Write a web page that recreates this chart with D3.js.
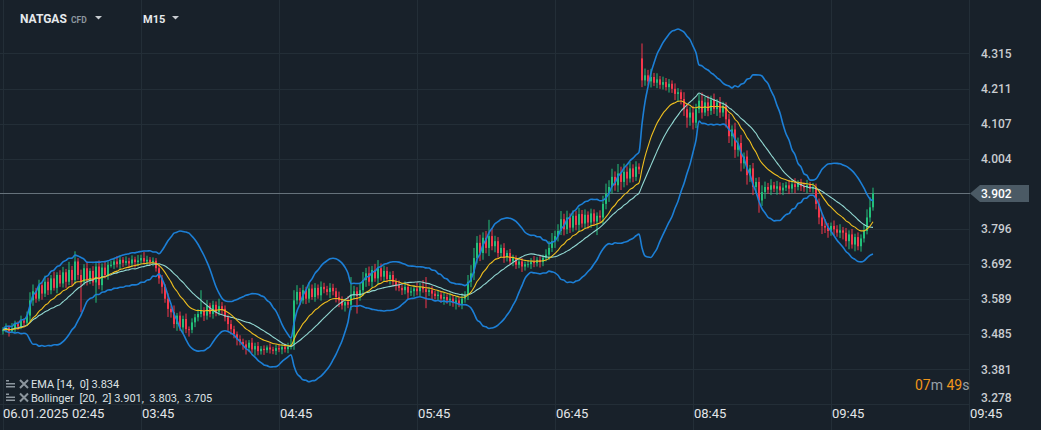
<!DOCTYPE html>
<head>
  <meta charset="utf-8">
  <title>NATGAS M15</title>
  <script src="https://d3js.org/d3.v7.min.js"></script>
  <style type="text/css">
    html, body { margin: 0; padding: 0; background: #18212a; }
    svg { display: block; font-family: Roboto, "Noto Sans", sans-serif; user-select: none; }
    .grid line { stroke: #232e37; stroke-width: 1px; }
    .ytick { fill: #c9cdd1; font-size: 12px; font-weight: 500; }
    .xtick { fill: #e3e6e9; font-size: 13px; }
    .legend { fill: #dde1e4; font-size: 11px; white-space: pre; }
  </style>
</head>
<body>
<div id="graph-container"></div>
<script>

// =================== Data ======================
// closing prices, one per candle (open = previous close unless a session gap)
const closes = [
  3.498, 3.505, 3.494, 3.502, 3.515, 3.508, 3.526, 3.519, 3.540, 3.585,
  3.612, 3.590, 3.630, 3.605, 3.640, 3.615, 3.650, 3.622, 3.660, 3.635,
  3.668, 3.640, 3.675, 3.645, 3.700, 3.660, 3.640, 3.680, 3.645, 3.672,
  3.638, 3.685, 3.630, 3.682, 3.660, 3.690, 3.690, 3.700, 3.692, 3.705,
  3.696, 3.701, 3.694, 3.706, 3.698, 3.703, 3.710, 3.700, 3.705, 3.698,
  3.702, 3.680, 3.650, 3.625, 3.590, 3.560, 3.550, 3.515, 3.540, 3.505,
  3.530, 3.500, 3.498, 3.520, 3.535, 3.545, 3.555, 3.540, 3.570, 3.545,
  3.572, 3.550, 3.568, 3.560, 3.535, 3.515, 3.500, 3.485, 3.470, 3.462,
  3.455, 3.445, 3.460, 3.440, 3.450, 3.435, 3.442, 3.438, 3.446, 3.440,
  3.436, 3.444, 3.440, 3.447, 3.441, 3.448, 3.455, 3.585, 3.610, 3.585,
  3.615, 3.590, 3.620, 3.595, 3.622, 3.600, 3.625, 3.618, 3.610, 3.622,
  3.612, 3.595, 3.585, 3.570, 3.580, 3.572, 3.600, 3.612, 3.598, 3.615,
  3.645, 3.665, 3.640, 3.675, 3.650, 3.680, 3.655, 3.672, 3.648, 3.660,
  3.640, 3.630, 3.622, 3.615, 3.625, 3.608, 3.612, 3.620, 3.612, 3.625,
  3.618, 3.610, 3.615, 3.605, 3.598, 3.602, 3.590, 3.595, 3.585, 3.590,
  3.578, 3.585, 3.575, 3.590, 3.600, 3.640, 3.665, 3.710, 3.755, 3.725,
  3.770, 3.740, 3.775, 3.745, 3.760, 3.725, 3.740, 3.712, 3.725, 3.700,
  3.710, 3.690, 3.700, 3.685, 3.692, 3.692, 3.700, 3.695, 3.705, 3.698,
  3.710, 3.720, 3.740, 3.760, 3.775, 3.790, 3.825, 3.795, 3.830, 3.800,
  3.835, 3.808, 3.840, 3.812, 3.838, 3.815, 3.842, 3.818, 3.835, 3.830,
  3.870, 3.900, 3.920, 3.950, 3.925, 3.960, 3.935, 3.965, 3.945, 3.975,
  3.950, 3.980, 3.972, 4.235, 4.250, 4.232, 4.245, 4.228, 4.238, 4.222,
  4.230, 4.215, 4.225, 4.210, 4.195, 4.200, 4.180, 4.150, 4.125, 4.140,
  4.110, 4.150, 4.175, 4.140, 4.170, 4.145, 4.178, 4.150, 4.170, 4.140,
  4.160, 4.120, 4.070, 4.090, 4.030, 4.050, 3.990, 4.010, 3.955, 3.975,
  3.920, 3.935, 3.880, 3.905, 3.920, 3.912, 3.925, 3.915, 3.922, 3.910,
  3.918, 3.925, 3.915, 3.928, 3.920, 3.930, 3.922, 3.918, 3.925, 3.915,
  3.920, 3.870, 3.830, 3.805, 3.800, 3.790, 3.805, 3.795, 3.785, 3.792,
  3.785, 3.760, 3.780, 3.750, 3.772, 3.745, 3.768, 3.790, 3.830, 3.860,
  3.902
];

// upper / lower wick length beyond the body, in units of 0.002
const wickUnit = 0.002;
const wickHi = [
  4,6,3,8,5,4,7,3,6,12, 10,5,8,4,9,6,5,10,4,7, 8,5,12,6,15,5,8,6,10,4,
  7,5,9,6,8,5,6,4,8,5, 4,7,5,6,4,8,5,9,6,4, 5,4,6,5,4,8,5,10,4,6,
  5,8,4,6,5,7,30,5,8,4, 6,5,11,6,5,4,6,5,4,6, 5,6,4,7,5,6,4,5,3,6,
  4,5,6,4,5,6,8,15,10,6, 8,5,9,6,7,5,8,6,5,7, 6,5,8,6,5,9,27,8,6,10,
  12,8,10,6,9,12,7,8,6,5, 6,5,7,4,8,5,6,5,9,6, 10,18,5,6,4,7,5,6,4,8,
  5,6,4,8,6,10,12,15,10,12, 8,10,24,12,8,6,5,7,4,6, 5,4,6,5,4,6,5,8,4,6,
  5,8,10,12,8,10,12,8,10,6, 8,7,9,6,8,5,7,6,5,8, 12,15,10,12,8,14,10,12,8,10,
  6,8,5,22,10,8,12,6,9,5, 8,6,7,5,8,6,4,10,6,8, 10,8,10,12,8,10,6,9,5,8,
  6,5,8,6,10,8,12,6,9,5, 8,6,7,10,8,6,9,5,8,6, 7,5,8,6,9,5,7,6,8,5,
  6,5,8,6,10,7,5,8,6,9, 5,7,6,8,5,7,6,10,12,15, 8
];
const wickLo = [
  5,4,8,3,6,5,4,7,5,10, 8,6,4,9,5,7,6,4,8,5, 6,9,5,8,6,7,45,5,8,6,
  5,30,6,8,5,7,4,6,5,8, 6,4,7,5,8,6,5,4,7,5, 6,5,8,10,6,12,8,6,10,5,
  8,6,10,5,7,6,5,8,6,5, 7,6,5,8,6,10,8,6,9,5, 8,10,6,5,9,6,5,7,4,6,
  5,6,4,7,5,6,4,8,6,7, 5,8,6,4,7,5,8,6,5,9, 6,8,10,6,9,5,8,6,26,7,
  8,10,6,8,5,9,6,7,5,8, 6,8,5,7,6,10,5,8,6,7, 5,24,6,8,5,7,6,9,5,8,
  6,10,5,8,6,7,8,10,8,12, 10,8,12,6,9,7,5,8,6,5, 7,6,5,8,6,5,7,6,5,8,
  6,5,8,6,10,8,6,9,7,8, 6,8,10,6,7,9,8,6,20,8, 10,8,12,10,8,10,12,8,10,6,
  8,6,7,10,8,6,9,5,8,6, 7,5,8,6,9,12,8,10,15,12, 10,8,6,9,5,8,6,7,10,8,
  6,12,10,15,12,10,12,8,14,10, 12,10,18,8,10,6,8,5,9,6, 7,5,8,6,9,5,7,6,8,5,
  6,8,10,12,8,10,7,9,6,8, 10,8,12,6,10,6,8,6,5,7, 5
];

// candles that open a new session with a gap: [index, open]
const sessionOpens = [[213, 4.300]];

// axes
const priceTicks = [4.315, 4.211, 4.107, 4.004, 3.796, 3.692, 3.589, 3.485, 3.381, 3.278];
const timeTickIdx = [0, 46, 92, 138, 184, 230, 276, 322];
const timeTickLabels = ["02:45", "03:45", "04:45", "05:45", "06:45", "08:45", "09:45", "09:45"];
const dateLabel = "06.01.2025";
const lastPrice = 3.902;

const legendLines = ["EMA [14,  0] 3.834", "Bollinger  [20,  2] 3.901,  3.803,  3.705"];

// =================== Chart Prep ======================
const width = 1041, height = 430;
const plotRight = 970;

const x = d3.scaleLinear().domain([0, 322]).range([3, 969]);
const y = d3.scaleLinear().domain([3.278, 4.315]).range([404.3, 53.3]);

// build OHLC
const gapMap = new Map(sessionOpens);
const candles = closes.map((c, i) => {
  let o = gapMap.has(i) ? gapMap.get(i) : (i === 0 ? c - 0.004 : closes[i - 1]);
  let top = Math.max(o, c), bot = Math.min(o, c);
  return { i: i, o: o, c: c, h: top + wickHi[i] * wickUnit, l: bot - wickLo[i] * wickUnit };
});

// EMA 14
const k = 2 / (14 + 1);
let emaVals = [];
closes.forEach((c, i) => {
  emaVals.push(i === 0 ? c : c * k + emaVals[i - 1] * (1 - k));
});

// Bollinger 20, 2
let boll = closes.map((c, i) => {
  let win = closes.slice(Math.max(0, i - 19), i + 1);
  let m = d3.mean(win);
  let sd = Math.sqrt(d3.mean(win, v => (v - m) * (v - m)));
  return { i: i, mid: m, up: m + 2 * sd, lo: m - 2 * sd };
});

const svg = d3.select("#graph-container").append("svg")
  .attr("width", width)
  .attr("height", height);

// grid
const grid = svg.append("g").attr("class", "grid");
grid.selectAll(".hg")
  .data(priceTicks)
  .enter().append("line")
  .attr("x1", 0).attr("x2", plotRight)
  .attr("y1", d => Math.round(y(d)) + 0.5)
  .attr("y2", d => Math.round(y(d)) + 0.5);
grid.selectAll(".vg")
  .data(timeTickIdx)
  .enter().append("line")
  .attr("x1", d => Math.round(x(d)) + 0.5)
  .attr("x2", d => Math.round(x(d)) + 0.5)
  .attr("y1", 0).attr("y2", height);

// current price line
svg.append("line")
  .attr("x1", 0).attr("x2", plotRight)
  .attr("y1", Math.round(y(lastPrice)) + 0.5)
  .attr("y2", Math.round(y(lastPrice)) + 0.5)
  .attr("stroke", "#66727b")
  .attr("stroke-width", 1);

// candles
const cg = svg.append("g");
cg.selectAll(".wick")
  .data(candles)
  .enter().append("line")
  .attr("x1", d => x(d.i)).attr("x2", d => x(d.i))
  .attr("y1", d => y(d.h)).attr("y2", d => y(d.l))
  .attr("stroke", d => d.c >= d.o ? "#22c07a" : "#f5374b")
  .attr("stroke-width", 1);
cg.selectAll(".body")
  .data(candles)
  .enter().append("rect")
  .attr("x", d => x(d.i) - 1)
  .attr("width", 2)
  .attr("y", d => y(Math.max(d.o, d.c)))
  .attr("height", d => Math.max(1, Math.abs(y(d.o) - y(d.c))))
  .attr("fill", d => d.c >= d.o ? "#22c07a" : "#f5374b");

// indicators
const lineOf = acc => d3.line().x(d => x(d.i)).y(acc).curve(d3.curveMonotoneX);
svg.append("path").datum(boll)
  .attr("d", lineOf(d => y(d.up)))
  .attr("fill", "none").attr("stroke", "#1c7fd6").attr("stroke-width", 1.6);
svg.append("path").datum(boll)
  .attr("d", lineOf(d => y(d.lo)))
  .attr("fill", "none").attr("stroke", "#1c7fd6").attr("stroke-width", 1.6);
svg.append("path").datum(boll)
  .attr("d", lineOf(d => y(d.mid)))
  .attr("fill", "none").attr("stroke", "#92d8d2").attr("stroke-width", 1.1);
svg.append("path").datum(emaVals.map((v, i) => ({ i: i, v: v })))
  .attr("d", lineOf(d => y(d.v)))
  .attr("fill", "none").attr("stroke", "#efbf1f").attr("stroke-width", 1.1);

// right axis labels (bottom one lifted above the time row)
svg.selectAll(".ytick")
  .data(priceTicks)
  .enter().append("text")
  .attr("class", "ytick")
  .attr("x", 981)
  .attr("y", d => Math.min(y(d), 398))
  .attr("dy", "0.35em")
  .text(d => d.toFixed(3));

// price marker
const py = Math.round(y(lastPrice)) + 0.5;
svg.append("path")
  .attr("d", `M${plotRight},${py} L${plotRight + 10},${py - 8.5} L1029,${py - 8.5} L1029,${py + 8.5} L${plotRight + 10},${py + 8.5} Z`)
  .attr("fill", "#4b5a65");
svg.append("text")
  .attr("x", 981).attr("y", py).attr("dy", "0.36em")
  .attr("fill", "#ffffff").attr("font-size", "12px").attr("font-weight", 500)
  .text(lastPrice.toFixed(3));

// time labels
svg.append("text").attr("class", "xtick")
  .attr("x", 3).attr("y", 418).text(dateLabel);
svg.selectAll(".xt")
  .data(timeTickIdx)
  .enter().append("text")
  .attr("class", "xtick")
  .attr("x", (d, i) => i === 0 ? 72 : Math.round(x(d)) + 1)
  .attr("y", 418)
  .text((d, i) => timeTickLabels[i]);

// countdown
const cd = svg.append("text").attr("x", 915).attr("y", 390).attr("font-size", "14px");
cd.append("tspan").attr("fill", "#f0951a").text("07");
cd.append("tspan").attr("fill", "#98a1a8").text("m ");
cd.append("tspan").attr("fill", "#f0951a").text("49");
cd.append("tspan").attr("fill", "#98a1a8").text("s");

// legend with small icons
legendLines.forEach((t, i) => {
  let ly = 388 + i * 13.5;
  let ig = svg.append("g").attr("fill", "#8c969e");
  ig.append("rect").attr("x", 6).attr("y", ly - 8).attr("width", 3).attr("height", 1.5);
  ig.append("rect").attr("x", 6).attr("y", ly - 5).attr("width", 9).attr("height", 1.5);
  ig.append("rect").attr("x", 6).attr("y", ly - 2).attr("width", 9).attr("height", 1.5);
  ig.append("path")
    .attr("d", `M20,${ly - 8} L28,${ly} M28,${ly - 8} L20,${ly}`)
    .attr("stroke", "#8c969e").attr("stroke-width", 2);
  svg.append("text").attr("class", "legend")
    .attr("x", 31).attr("y", ly).text(t);
});

// header
svg.append("text").attr("x", 20).attr("y", 23)
  .attr("fill", "#e6e9ec").attr("font-size", "12px").attr("font-weight", 700)
  .text("NATGAS");
svg.append("text").attr("x", 71).attr("y", 23)
  .attr("fill", "#8c969e").attr("font-size", "8.5px").attr("font-weight", 700)
  .text("CFD");
svg.append("text").attr("x", 143).attr("y", 23)
  .attr("fill", "#e6e9ec").attr("font-size", "11px").attr("font-weight", 700)
  .text("M15");
[95, 172].forEach(tx => {
  svg.append("path")
    .attr("d", `M${tx},16 L${tx + 7},16 L${tx + 3.5},19.5 Z`)
    .attr("fill", "#c8ccd0");
});
</script>
</body>
